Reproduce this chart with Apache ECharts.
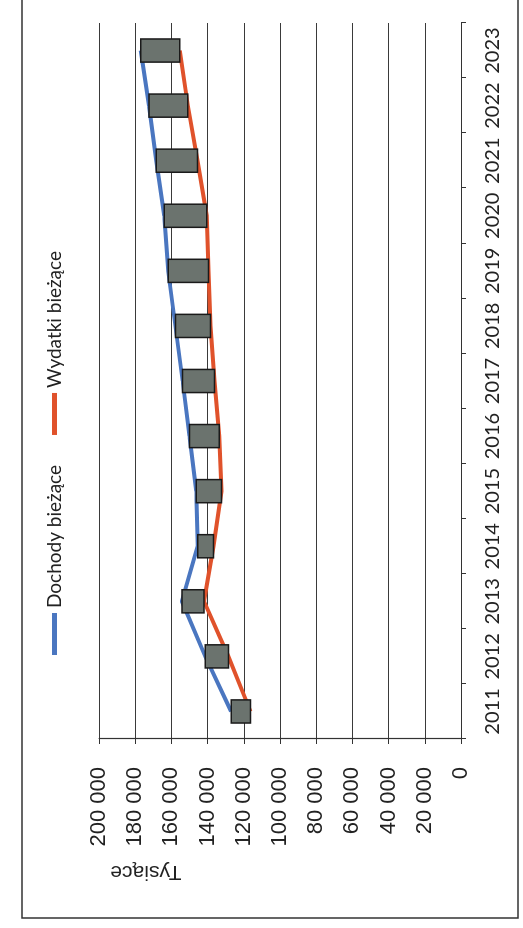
<!DOCTYPE html>
<html>
<head>
<meta charset="utf-8">
<script src="https://cdn.jsdelivr.net/npm/echarts@6/dist/echarts.min.js"></script>
<style>
  html, body { margin: 0; padding: 0; background: #fff; overflow: hidden; }
  body { width: 523px; height: 928px; position: relative; }
  /* the chart is laid out landscape and turned a quarter turn to stand on the page */
  #chart {
    position: absolute; left: 0; top: 0;
    width: 928px; height: 523px;
    transform-origin: 0 0;
    transform: translate(0, 928px) rotate(-90deg);
  }
</style>
</head>
<body>
<div id="chart"></div>
<script>
// Budżet bieżący, tys. zł
const years = ['2011','2012','2013','2014','2015','2016','2017','2018','2019','2020','2021','2022','2023'];
const dochody = [127000, 141300, 154200, 145500, 146300, 150000, 153800, 157800, 161800, 164000, 168400, 172400, 176900];
const wydatki = [116300, 128500, 142000, 136700, 132300, 133600, 136200, 138400, 139500, 140500, 145600, 150900, 155400];
const valueTicks = [0, 20000, 40000, 60000, 80000, 100000, 120000, 140000, 160000, 180000, 200000];

const fmt = v => String(v).replace(/\B(?=(\d{3})+(?!\d))/g, ' ');

const chart = echarts.init(document.getElementById('chart'), null, { renderer: 'canvas' });

chart.setOption({
  backgroundColor: '#ffffff',
  animation: false,
  grid: { left: 189, right: 23, top: 99, bottom: 62 },
  legend: {
    left: 268, top: 40,
    itemWidth: 42, itemHeight: 5, itemGap: 30,
    icon: 'rect',
    textStyle: { fontFamily: 'Lato', fontSize: 19, color: '#222' },
    data: ['Dochody bieżące', 'Wydatki bieżące']
  },
  xAxis: {
    type: 'category',
    data: years,
    boundaryGap: true,
    axisLine: { lineStyle: { color: '#333', width: 1.2 } },
    axisTick: { show: true, length: 5, lineStyle: { color: '#333' } },
    axisLabel: { fontFamily: 'Lato', fontSize: 20, color: '#222', margin: 22, interval: 0 }
  },
  yAxis: {
    type: 'value',
    min: valueTicks[0], max: valueTicks[valueTicks.length - 1], interval: valueTicks[1] - valueTicks[0],
    axisLine: { show: true, lineStyle: { color: '#333', width: 1.2 } },
    axisTick: { show: true, length: 5, lineStyle: { color: '#333' } },
    axisLabel: { fontFamily: 'Liberation Sans', fontSize: 22, color: '#222', margin: 28, formatter: fmt },
    splitLine: { show: true, lineStyle: { color: '#3a3a3a', width: 1.2 } }
  },
  graphic: [
    {
      type: 'rect', silent: true,
      shape: { x: 10, y: 22, width: 940, height: 496 },
      style: { fill: 'none', stroke: '#333', lineWidth: 1.5 }
    },
    {
      type: 'text', x: 56, y: 146, rotation: Math.PI / 2,
      style: {
        text: 'Tysiące', fontFamily: 'Liberation Sans', fontSize: 21, fill: '#222',
        align: 'center', verticalAlign: 'middle'
      }
    }
  ],
  series: [
    {
      name: 'Dochody bieżące', type: 'line', data: dochody,
      symbol: 'none', z: 2,
      itemStyle: { color: '#4a76c0' },
      lineStyle: { color: '#4a76c0', width: 4 }
    },
    {
      name: 'Wydatki bieżące', type: 'line', data: wydatki,
      symbol: 'none', z: 2,
      itemStyle: { color: '#e0522b' },
      lineStyle: { color: '#e0522b', width: 4 }
    },
    {
      // up/down bars spanning the two series in each year
      name: 'różnica', type: 'custom', z: 5,
      data: years.map((y, i) => [i, wydatki[i], dochody[i]]),
      renderItem: (params, api) => {
        const a = api.coord([api.value(0), api.value(1)]);
        const b = api.coord([api.value(0), api.value(2)]);
        const w = api.size([1, 0])[0] * 0.42;
        return {
          type: 'rect',
          shape: { x: a[0] - w / 2, y: Math.min(a[1], b[1]), width: w, height: Math.abs(a[1] - b[1]) },
          style: { fill: '#6b736e', stroke: '#1a1a1a', lineWidth: 1.5 }
        };
      }
    }
  ]
});
</script>
</body>
</html>
